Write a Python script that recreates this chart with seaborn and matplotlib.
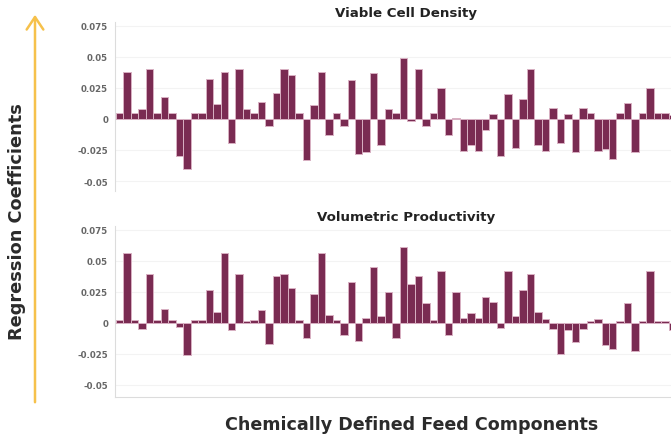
import numpy as np
import pandas as pd
import seaborn as sns
import matplotlib.pyplot as plt
from matplotlib.patches import FancyArrowPatch

# regression coefficients, one per feed component
vcd = [0.005, 0.038, 0.005, 0.008, 0.040, 0.005, 0.018, 0.005, -0.030, -0.040,
       0.005, 0.005, 0.032, 0.012, 0.038, -0.019, 0.040, 0.008, 0.005, 0.014,
       -0.006, 0.021, 0.040, 0.035, 0.005, -0.033, 0.011, 0.038, -0.013, 0.005,
       -0.006, 0.031, -0.028, -0.027, 0.037, -0.021, 0.008, 0.005, 0.049, -0.002,
       0.040, -0.006, 0.005, 0.025, -0.013, 0.001, -0.026, -0.021, -0.026, -0.009,
       0.004, -0.030, 0.020, -0.023, 0.016, 0.040, -0.021, -0.026, 0.009, -0.019,
       0.004, -0.027, 0.009, 0.005, -0.026, -0.024, -0.032, 0.005, 0.013, -0.027,
       0.005, 0.025, 0.005, 0.005, 0.003]
vp = [0.002, 0.056, 0.002, -0.005, 0.039, 0.002, 0.011, 0.002, -0.0035, -0.026,
      0.002, 0.002, 0.026, 0.009, 0.056, -0.006, 0.039, 0.001, 0.002, 0.010,
      -0.017, 0.038, 0.039, 0.028, 0.002, -0.012, 0.023, 0.056, 0.006, 0.002,
      -0.010, 0.033, -0.015, 0.004, 0.045, 0.005, 0.025, -0.012, 0.061, 0.031,
      0.038, 0.016, 0.002, 0.042, -0.010, 0.025, 0.004, 0.008, 0.004, 0.021,
      0.017, -0.004, 0.042, 0.005, 0.026, 0.039, 0.009, 0.003, -0.005, -0.025,
      -0.006, -0.016, -0.005, 0.001, 0.003, -0.018, -0.021, 0.001, 0.016, -0.023,
      0.001, 0.042, 0.001, 0.001, -0.006]
components = [f"C{i + 1}" for i in range(len(vcd))]

titles = ["Viable Cell Density", "Volumetric Productivity"]
yticks = [-0.05, -0.025, 0, 0.025, 0.05, 0.075]
ytick_labels = ["-0.05", "-0.025", "0", "0.025", "0.05", "0.075"]

sns.set_style("white")
fig = plt.figure(figsize=(6.71, 4.39), dpi=100)

bar_fill = "#7a2b52"
bar_edge = "#d8b0c2"

W, H = 671.0, 439.0
# axes boxes in pixels: left, top, right, bottom
boxes = [(115, 23, 671, 192), (115, 227, 671, 398)]
ylims = [(-0.058, 0.078), (-0.060, 0.078)]
title_y = [14, 217]

for i, (vals, title) in enumerate(zip([vcd, vp], titles)):
    l, t, r, b = boxes[i]
    ax = fig.add_axes([l / W, 1 - b / H, (r - l) / W, (b - t) / H])
    df = pd.DataFrame({"component": components, "coef": vals})
    sns.barplot(data=df, x="component", y="coef", color=bar_fill, saturation=1,
                width=1.0, edgecolor=bar_edge, linewidth=0.7, ax=ax)
    ax.set_xlim(-0.63, 73.8)
    ax.set_ylim(*ylims[i])
    ax.set_yticks(yticks)
    ax.set_yticklabels(ytick_labels, fontsize=6.2, fontweight="bold", color="#666666")
    ax.set_xticks([])
    ax.set_xlabel("")
    ax.set_ylabel("")
    ax.tick_params(axis="y", length=0, pad=5)
    ax.yaxis.grid(True, color="#f3f3f3", linewidth=0.8)
    ax.set_axisbelow(True)
    for s in ["top", "right"]:
        ax.spines[s].set_visible(False)
    ax.spines["left"].set_color("#dcdcdc")
    ax.spines["left"].set_linewidth(0.8)
    if i == 0:
        ax.spines["bottom"].set_visible(False)
    else:
        ax.spines["bottom"].set_color("#dcdcdc")
        ax.spines["bottom"].set_linewidth(0.8)
    fig.text(406 / W, 1 - title_y[i] / H, title, ha="center", va="center",
             fontsize=9.6, fontweight="bold", color="#222222")

# yellow arrow and axis descriptions
fig.text(17 / W, 1 - 222 / H, "Regression Coefficients", rotation=90, ha="center",
         va="center", fontsize=12.8, fontweight="bold", color="#2b2b2b")
fig.text(412 / W, 1 - 425 / H, "Chemically Defined Feed Components", ha="center",
         va="center", fontsize=12.6, fontweight="bold", color="#2b2b2b")
fig.add_artist(FancyArrowPatch(
    (35 / W, 1 - 406 / H), (35 / W, 1 - 13 / H), transform=fig.transFigure,
    arrowstyle="->,head_length=4.5,head_width=3", color="#f6c14b", linewidth=1.8,
    mutation_scale=2))

fig.savefig("out.png", dpi=100)
